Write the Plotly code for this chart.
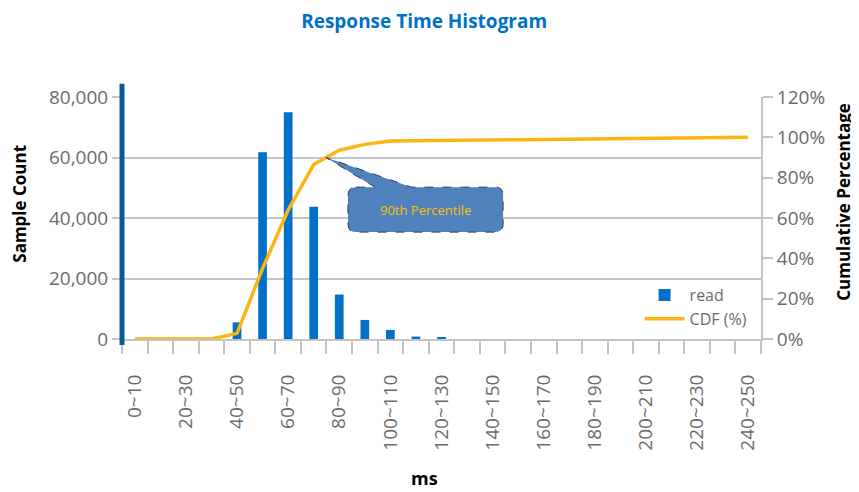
import plotly.graph_objects as go

# response time buckets (ms)
categories = [
    "0~10", "10~20", "20~30", "30~40", "40~50", "50~60", "60~70", "70~80",
    "80~90", "90~100", "100~110", "110~120", "120~130", "130~140", "140~150",
    "150~160", "160~170", "170~180", "180~190", "190~200", "200~210",
    "210~220", "220~230", "230~240", "240~250",
]
read_counts = [
    0, 0, 0, 0, 5500, 61700, 75000, 43700, 14700, 6300, 3000, 800, 400,
    0, 0, 0, 0, 0, 0, 0, 0, 0, 0, 0, 0,
]
cdf_pct = [
    0, 0, 0, 0, 2.8, 35, 64, 86.5, 93.6, 96.5, 98.2, 98.4, 98.5, 98.6, 98.7,
    98.8, 98.9, 99.0, 99.2, 99.3, 99.5, 99.6, 99.7, 99.9, 100,
]
count_ticks = [0, 20000, 40000, 60000, 80000]
pct_ticks = [0, 20, 40, 60, 80, 100, 120]

xpos = list(range(len(categories)))
label_pos = xpos[::2]
label_text = categories[::2]

GREY = "#6b6b6b"
LINE_GREY = "#c4c4c4"
FONT = "Open Sans"
TITLE_FONT = dict(family=FONT, size=17, color="black", weight="bold")

fig = go.Figure()

fig.add_trace(
    go.Bar(
        x=xpos,
        y=read_counts,
        name="read",
        width=0.34,
        marker=dict(color="#0071c5", line=dict(width=0)),
        yaxis="y",
    )
)

fig.add_trace(
    go.Scatter(
        x=xpos,
        y=cdf_pct,
        name="CDF (%)",
        mode="lines",
        line=dict(color="#fdb515", width=3.5),
        yaxis="y2",
    )
)

# callout pointing at the 90th percentile on the CDF line
tip_x, tip_y = 7.48, 90
bx0, bx1, by0, by1 = 8.34, 14.41, 53.0, 75.3
rx, ry = 0.31, 4.0
callout = (
    f"M {bx0 + rx},{by1} L 9.4,{by1} L {tip_x},{tip_y} L 10.83,{by1} "
    f"L {bx1 - rx},{by1} Q {bx1},{by1} {bx1},{by1 - ry} "
    f"L {bx1},{by0 + ry} Q {bx1},{by0} {bx1 - rx},{by0} "
    f"L {bx0 + rx},{by0} Q {bx0},{by0} {bx0},{by0 + ry} "
    f"L {bx0},{by1 - ry} Q {bx0},{by1} {bx0 + rx},{by1} Z"
)
fig.add_shape(
    type="path",
    path=callout,
    xref="x",
    yref="y2",
    fillcolor="#4f81bd",
    line=dict(color="#243f60", width=1, dash="dash"),
    layer="above",
)
fig.add_annotation(
    x=(bx0 + bx1) / 2,
    y=(by0 + by1) / 2,
    xref="x",
    yref="y2",
    text="90th Percentile",
    showarrow=False,
    font=dict(family=FONT, size=13, color="#ffc000"),
)

# thick left axis bar
fig.add_shape(
    type="line",
    xref="paper",
    yref="paper",
    x0=0, x1=0, y0=-0.025, y1=1.055,
    line=dict(color="#0b5a98", width=5),
)

# axis titles
fig.add_annotation(
    text="Sample Count", textangle=-90, showarrow=False,
    xref="paper", yref="paper", x=-0.16, y=0.558,
    xanchor="center", yanchor="middle", font=TITLE_FONT,
)
fig.add_annotation(
    text="Cumulative Percentage", textangle=-90, showarrow=False,
    xref="paper", yref="paper", x=1.128, y=0.566,
    xanchor="center", yanchor="middle", font=TITLE_FONT,
)
fig.add_annotation(
    text="ms", showarrow=False,
    xref="paper", yref="paper", x=0.474, y=-0.575,
    xanchor="center", yanchor="middle",
    font=dict(family=FONT, size=18, color="black", weight="bold"),
)

fig.update_layout(
    width=851,
    height=484,
    margin=dict(l=114, r=98, t=89, b=153),
    plot_bgcolor="white",
    paper_bgcolor="white",
    font=dict(family=FONT, color=GREY),
    title=dict(
        text="Response Time Histogram",
        x=0.489,
        xanchor="center",
        y=0.972,
        yanchor="middle",
        font=dict(family=FONT, size=19, color="#0071c5", weight="bold"),
    ),
    bargap=0.2,
    showlegend=True,
    legend=dict(
        x=0.81,
        y=0.252,
        xanchor="left",
        yanchor="top",
        bgcolor="rgba(0,0,0,0)",
        font=dict(family=FONT, size=16, color=GREY),
        itemwidth=40,
        tracegroupgap=0,
    ),
    xaxis=dict(
        range=[-0.5, len(categories) - 0.5],
        tickmode="array",
        tickvals=label_pos,
        ticktext=label_text,
        tickangle=-90,
        ticks="",
        ticklabelstandoff=26,
        tickfont=dict(family=FONT, size=19, color=GREY),
        minor=dict(
            tickmode="linear",
            tick0=0.5,
            dtick=1,
            ticks="outside",
            ticklen=13,
            tickwidth=2,
            tickcolor=LINE_GREY,
            showgrid=False,
        ),
        showgrid=False,
        zeroline=False,
        showline=True,
        linecolor=LINE_GREY,
        linewidth=2,
    ),
    yaxis=dict(
        range=[0, 80000],
        tickmode="array",
        tickvals=count_ticks,
        tickformat=",",
        ticks="outside",
        ticklen=9,
        tickwidth=2,
        tickcolor=LINE_GREY,
        tickfont=dict(family=FONT, size=19, color=GREY),
        showgrid=True,
        gridcolor=LINE_GREY,
        gridwidth=2,
        zeroline=False,
        showline=False,
    ),
    yaxis2=dict(
        overlaying="y",
        side="right",
        range=[0, 120],
        tickmode="array",
        tickvals=pct_ticks,
        ticktext=[f"{v}%" for v in pct_ticks],
        ticks="outside",
        ticklen=10,
        tickwidth=1.5,
        tickcolor=LINE_GREY,
        tickfont=dict(family=FONT, size=19, color=GREY),
        showgrid=False,
        zeroline=False,
        showline=True,
        linecolor=LINE_GREY,
        linewidth=2,
    ),
)

fig.write_html("out.html")
